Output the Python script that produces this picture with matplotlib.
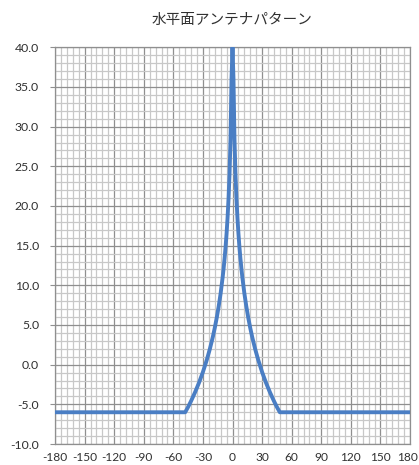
import matplotlib
matplotlib.use("Agg")
import matplotlib.pyplot as plt
from matplotlib.ticker import MultipleLocator, FixedLocator
from matplotlib.transforms import ScaledTranslation

# Data (angle in degrees, gain in dB)
angles = [-180, -48, -45, -42, -38, -34, -30, -26, -23, -20, -18, -16, -14, -12, -10,
          -9, -8, -7, -6, -5, -4, -3, -2, -1, 0,
          1, 2, 3, 4, 5, 6, 7, 8, 9, 10, 12, 14, 16, 18, 20, 23, 26, 30, 34, 38, 42, 45, 48, 180]
gains = [-6.0, -6.0, -5.33, -4.58, -3.49, -2.29, -0.93, 0.63, 1.96, 3.47, 4.62, 5.90, 7.35, 9.02, 11.0,
         12.14, 13.42, 14.87, 16.55, 18.53, 20.95, 24.07, 28.47, 36.0, 40.0,
         36.0, 28.47, 24.07, 20.95, 18.53, 16.55, 14.87, 13.42, 12.14, 11.0, 9.02, 7.35, 5.90, 4.62, 3.47,
         1.96, 0.63, -0.93, -2.29, -3.49, -4.58, -5.33, -6.0, -6.0]

title = "水平面アンテナパターン"
x_ticks = [-180, -150, -120, -90, -60, -30, 0, 30, 60, 90, 120, 150, 180]
y_ticks = [-10, -5, 0, 5, 10, 15, 20, 25, 30, 35, 40]

fig = plt.figure(figsize=(4.19, 4.65), dpi=100)
ax = fig.add_axes([55/419, 1-444/465, (410-55)/419, (444-47.3)/465])

ax.set_xlim(-180, 180)
ax.set_ylim(-10, 40)

ax.xaxis.set_major_locator(FixedLocator(x_ticks))
ax.yaxis.set_major_locator(FixedLocator(y_ticks))
ax.xaxis.set_minor_locator(MultipleLocator(6))
ax.yaxis.set_minor_locator(MultipleLocator(1))

ax.grid(which="minor", color="#c8c8c8", linewidth=0.9)
ax.grid(which="major", color="#8f8f8f", linewidth=0.9)
ax.set_axisbelow(True)

for s in ax.spines.values():
    s.set_color("#8f8f8f")
    s.set_linewidth(0.9)

ax.plot(angles, gains, color="#4a7ec4", linewidth=2.8, solid_joinstyle="round", zorder=3)

tickfont = "Lato"
ax.set_xticklabels([str(v) for v in x_ticks], fontsize=8.6, color="#303030", family=tickfont)
ax.set_yticklabels([f"{v:.1f}" for v in y_ticks], fontsize=8.8, color="#303030", family=tickfont)
ax.tick_params(axis="x", which="major", length=0, pad=6)
ax.tick_params(axis="y", which="major", length=3.5, color="#8f8f8f", pad=8)
ax.tick_params(which="minor", length=0)

# keep the rightmost label inside the canvas
last = ax.get_xticklabels()[-1]
last.set_transform(last.get_transform() + ScaledTranslation(-2/72, 0, fig.dpi_scale_trans))

fig.text((55+410)/2/419, 1-20/465, title, ha="center", va="center", fontsize=10.5,
         family=["Noto Sans CJK JP", "DejaVu Sans"], color="#303030")

fig.savefig("out.png", dpi=100)
